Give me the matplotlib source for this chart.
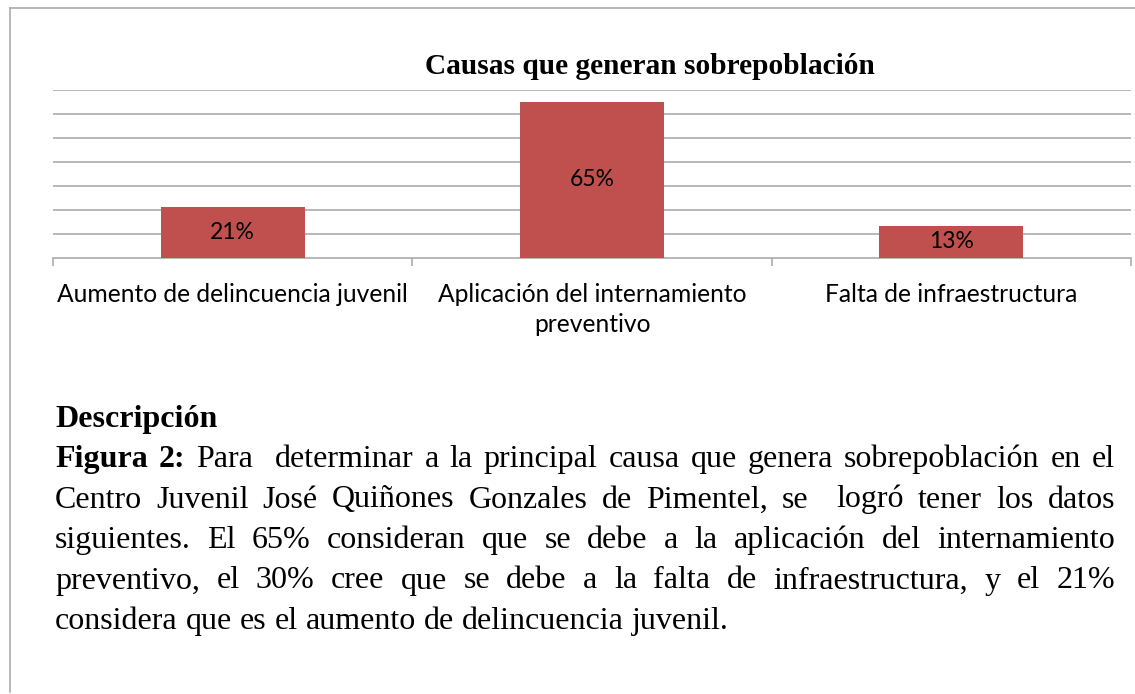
import matplotlib
matplotlib.use("Agg")
import matplotlib.pyplot as plt
from matplotlib.lines import Line2D

W, H = 1135, 694

categories = ["Aumento de delincuencia juvenil",
              "Aplicación del internamiento\npreventivo",
              "Falta de infraestructura"]
values = [21, 65, 13]
y_ticks = [10, 20, 30, 40, 50, 60, 70]

title = "Causas que generan sobrepoblación"
heading = "Descripción"
# "" tokens keep the double spaces of the original text
body_lines = [
    "Figura 2: Para  determinar a la principal causa que genera sobrepoblación en el",
    "Centro Juvenil José Quiñones Gonzales de Pimentel, se  logró tener los datos",
    "siguientes. El 65% consideran que se debe a la aplicación del internamiento",
    "preventivo, el 30% cree que se debe a la falta de infraestructura, y el 21%",
    "considera que es el aumento de delincuencia juvenil.",
]

bar_color = "#C0504D"
grid_color = "#ABABAB"
sans = ["Lato", "DejaVu Sans"]
serif = ["Liberation Serif", "DejaVu Serif"]
body_size = 23


def fx(px):
    return px / W


def fy(py):
    return 1 - py / H


fig = plt.figure(figsize=(W / 100, H / 100), dpi=100)

# left and top edges of the text box
fig.add_artist(Line2D([fx(10), fx(10)], [fy(8), fy(692)], color=grid_color, lw=1.2))
fig.add_artist(Line2D([fx(10), 1], [fy(8), fy(8)], color=grid_color, lw=1.2))

ax = fig.add_axes([fx(53), fy(257.5), fx(1131) - fx(53), fy(89.5) - fy(257.5)])
x = list(range(len(categories)))
ax.bar(x, values, width=0.4, color=bar_color, zorder=3)
ax.set_xlim(-0.5, len(categories) - 0.5)
ax.set_ylim(0, 70)
ax.set_yticks(y_ticks)
ax.yaxis.grid(True, color=grid_color, lw=1.2)
ax.tick_params(axis="y", length=0, labelleft=False)
for s in ["top", "right", "left"]:
    ax.spines[s].set_visible(False)
ax.spines["bottom"].set_color(grid_color)
ax.spines["bottom"].set_linewidth(1.2)

ax.set_xticks(x)
ax.set_xticklabels(categories, fontsize=17.7, family=sans, linespacing=1.35, va="top")
ax.tick_params(axis="x", length=0, pad=18.5)
ax.set_xticks([i - 0.5 for i in range(len(categories) + 1)], minor=True)
ax.tick_params(axis="x", which="minor", length=6, color=grid_color, width=1.2)

for xi, v in zip(x, values):
    ax.text(xi, v / 2, f"{v}%", ha="center", va="center", fontsize=16.5,
            family=sans, zorder=4)

fig.text(fx(650), fy(74), title, ha="center", va="baseline", fontsize=21.2,
         fontweight="bold", family=serif)

fig.text(fx(55), fy(427), heading, ha="left", va="baseline", fontsize=body_size,
         fontweight="bold", family=serif)

# justified paragraph
left, right = 55, 1115
baselines = [467, 507.5, 548, 588.5, 629]
fig.canvas.draw()
renderer = fig.canvas.get_renderer()
probe = fig.text(0, 0, "a a", fontsize=body_size, family=serif)
space = probe.get_window_extent(renderer).width
probe.set_text("aa")
space -= probe.get_window_extent(renderer).width
probe.remove()

for li, (line, base) in enumerate(zip(body_lines, baselines)):
    words = line.split(" ")
    arts = []
    for wi, wd in enumerate(words):
        bold = li == 0 and wi < 2
        t = fig.text(0, fy(base), wd, ha="left", va="baseline", fontsize=body_size,
                     fontweight="bold" if bold else "normal", family=serif)
        arts.append(t)
    widths = [a.get_window_extent(renderer).width if a.get_text() else 0 for a in arts]
    if li == len(body_lines) - 1:
        sp = space
    else:
        sp = (right - left - sum(widths)) / (len(words) - 1)
    xpos = left
    for a, w_ in zip(arts, widths):
        a.set_x(fx(xpos))
        xpos += w_ + sp

fig.savefig("out.png", dpi=100)
